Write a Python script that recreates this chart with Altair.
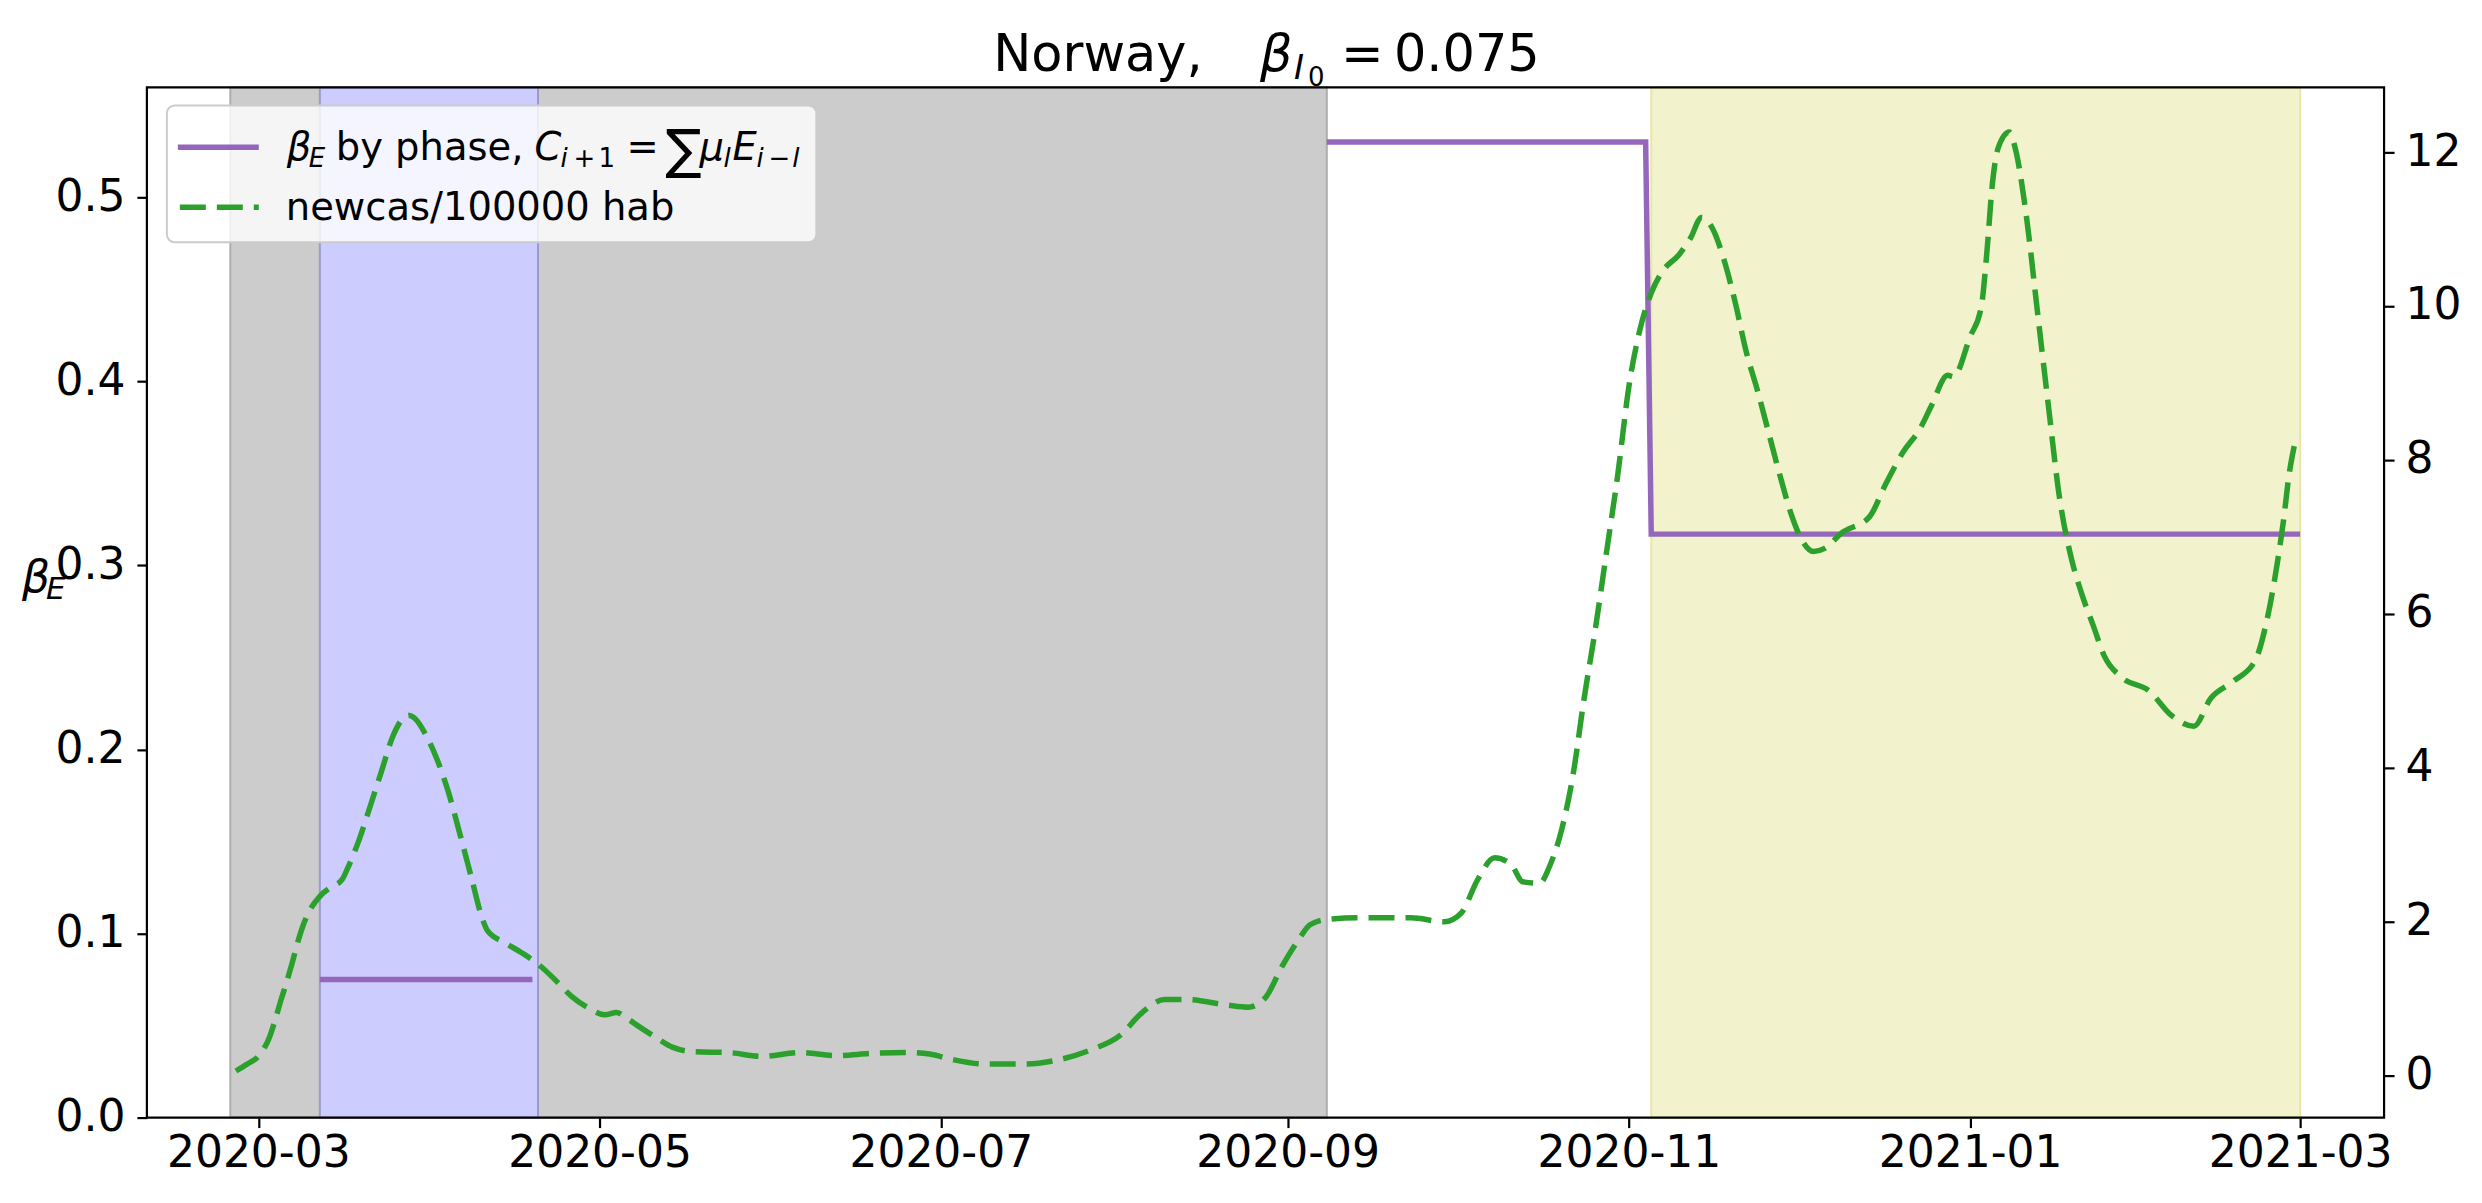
import altair as alt
import pandas as pd

# ---------------- data ----------------
green_dates = [
    "2020-02-26", "2020-02-28", "2020-03-01", "2020-03-02", "2020-03-03", "2020-03-04",
    "2020-03-05", "2020-03-06", "2020-03-07", "2020-03-08", "2020-03-09", "2020-03-10",
    "2020-03-12", "2020-03-14", "2020-03-16", "2020-03-17", "2020-03-19", "2020-03-21",
    "2020-03-23", "2020-03-25", "2020-03-27", "2020-03-28", "2020-03-29", "2020-03-31",
    "2020-04-02", "2020-04-04", "2020-04-06", "2020-04-08", "2020-04-10", "2020-04-11",
    "2020-04-14", "2020-04-17", "2020-04-20", "2020-04-23", "2020-04-26", "2020-04-29",
    "2020-05-02", "2020-05-04", "2020-05-06", "2020-05-08", "2020-05-11", "2020-05-14",
    "2020-05-18", "2020-05-24", "2020-05-30", "2020-06-06", "2020-06-12", "2020-06-19",
    "2020-06-25", "2020-06-29", "2020-07-03", "2020-07-09", "2020-07-16", "2020-07-21",
    "2020-07-28", "2020-08-02", "2020-08-06", "2020-08-10", "2020-08-14", "2020-08-21",
    "2020-08-25", "2020-08-28", "2020-08-31", "2020-09-03", "2020-09-05", "2020-09-08",
    "2020-09-14", "2020-09-23", "2020-09-29", "2020-10-02", "2020-10-05", "2020-10-08",
    "2020-10-11", "2020-10-13", "2020-10-16", "2020-10-18", "2020-10-20", "2020-10-22",
    "2020-10-24", "2020-10-26", "2020-10-28", "2020-10-30", "2020-11-01", "2020-11-03",
    "2020-11-05", "2020-11-07", "2020-11-10", "2020-11-12", "2020-11-14", "2020-11-16",
    "2020-11-18", "2020-11-20", "2020-11-22", "2020-11-24", "2020-11-26", "2020-11-28",
    "2020-11-30", "2020-12-02", "2020-12-04", "2020-12-06", "2020-12-09", "2020-12-14",
    "2020-12-17", "2020-12-20", "2020-12-23", "2020-12-25", "2020-12-28", "2020-12-29",
    "2021-01-01", "2021-01-03", "2021-01-04", "2021-01-05", "2021-01-06", "2021-01-08",
    "2021-01-09", "2021-01-11", "2021-01-13", "2021-01-15", "2021-01-17", "2021-01-19",
    "2021-01-21", "2021-01-23", "2021-01-25", "2021-01-28", "2021-02-02", "2021-02-06",
    "2021-02-10", "2021-02-13", "2021-02-17", "2021-02-21", "2021-02-23", "2021-02-25",
    "2021-02-26", "2021-02-27", "2021-02-28",
]
green_values = [
    0.06, 0.15, 0.25, 0.35, 0.50, 0.72,
    0.97, 1.20, 1.45, 1.72, 1.95, 2.12,
    2.33, 2.45, 2.55, 2.70, 3.06, 3.50,
    3.95, 4.40, 4.65, 4.68, 4.64, 4.42,
    4.10, 3.68, 3.15, 2.60, 2.05, 1.88,
    1.73, 1.60, 1.45, 1.25, 1.03, 0.88,
    0.79, 0.82, 0.74, 0.64, 0.50, 0.37,
    0.31, 0.30, 0.25, 0.30, 0.26, 0.29,
    0.30, 0.28, 0.21, 0.15, 0.15, 0.19,
    0.34, 0.52, 0.82, 0.99, 0.99, 0.92,
    0.89, 1.01, 1.42, 1.77, 1.96, 2.03,
    2.05, 2.05, 2.00, 2.11, 2.55, 2.83,
    2.74, 2.52, 2.50, 2.75, 3.20, 3.90,
    4.90, 5.80, 6.80, 7.80, 8.95, 9.70,
    10.17, 10.45, 10.67, 10.88, 11.15, 11.00,
    10.60, 10.05, 9.40, 8.90, 8.35, 7.80,
    7.30, 6.95, 6.81, 6.85, 7.05, 7.26,
    7.70, 8.10, 8.40, 8.69, 9.10, 9.08,
    9.60, 9.99, 10.70, 11.60, 12.05, 12.26,
    12.07, 11.20, 9.95, 8.70, 7.50, 6.75,
    6.25, 5.85, 5.45, 5.18, 5.00, 4.68,
    4.54, 4.90, 5.12, 5.40, 5.90, 6.70,
    7.20, 7.80, 8.20,
]

purple_dates = ["2020-03-12", "2020-04-19", "2020-09-08", "2020-11-04", "2020-11-05", "2021-03-01"]
purple_values = [0.075, 0.075, 0.53, 0.53, 0.317, 0.317]
purple_segment = [1, 1, 2, 2, 2, 2]

span_start = ["2020-02-25", "2020-03-12", "2020-11-05"]
span_end = ["2020-09-08", "2020-04-20", "2021-03-01"]
span_kind = ["grey", "blue", "yellow"]

left_ticks = [0.0, 0.1, 0.2, 0.3, 0.4, 0.5]
right_ticks = [0, 2, 4, 6, 8, 10, 12]
x_ticks = ["2020-03", "2020-05", "2020-07", "2020-09", "2020-11", "2021-01", "2021-03"]

legend_label_2 = "newcas/100000 hab"

# ---------------- layout / style ----------------
W, H = 2239, 1031
FONT = "DejaVu Sans"
PURPLE = "#9467bd"
GREEN = "#2ca02c"
TICK = 44
LW = 5.5

green_df = pd.DataFrame({"date": green_dates, "v": green_values})
purple_df = pd.DataFrame({"date": purple_dates, "v": purple_values, "seg": purple_segment})
span_df = pd.DataFrame({"start": span_start, "end": span_end, "kind": span_kind})
dummy = pd.DataFrame({"a": [0]})

x_values = [alt.DateTime(year=int(t[:4]), month=int(t[5:7]), date=1, utc=True) for t in x_ticks]
x_scale = alt.Scale(
    type="utc",
    domain=[alt.DateTime(year=2020, month=2, date=10, hours=2, utc=True),
            alt.DateTime(year=2021, month=3, date=16, utc=True)],
    nice=False,
)
x_axis = alt.Axis(values=x_values, format="%Y-%m", labelPadding=4, labelLimit=0, title=None)


def xenc(field):
    return alt.X(field, type="temporal", scale=x_scale, axis=x_axis)


spans = alt.Chart(span_df).mark_rect(strokeWidth=2).encode(
    x=xenc("start"),
    x2=alt.X2("end"),
    y=alt.value(0),
    y2=alt.value(H),
    fill=alt.Fill("kind:N", scale=alt.Scale(domain=span_kind,
                                            range=["#cccccc", "#ccccff", "#f2f2cc"]), legend=None),
    stroke=alt.Stroke("kind:N", scale=alt.Scale(domain=span_kind,
                                                range=["#adadad", "#9a9acc", "#e6e6aa"]), legend=None),
)

purple = alt.Chart(purple_df).mark_line(color=PURPLE, strokeWidth=LW, strokeJoin="miter").encode(
    x=xenc("date"),
    y=alt.Y("v:Q", scale=alt.Scale(domain=[0, 0.5597], nice=False, zero=False),
            axis=alt.Axis(orient="left", values=left_ticks, format=".1f", labelPadding=12, title=None)),
    detail="seg:N",
)

green = alt.Chart(green_df).mark_line(color=GREEN, strokeWidth=LW, strokeDash=[26, 11],
                                      interpolate="monotone").encode(
    x=xenc("date"),
    y=alt.Y("v:Q", scale=alt.Scale(domain=[-0.545, 12.84], nice=False, zero=False),
            axis=alt.Axis(orient="right", values=right_ticks, format="d", labelPadding=11, title=None)),
)


def txt(s, x, y, size, italic=False, align="left"):
    return alt.Chart(dummy).mark_text(
        text=s, font=FONT, fontSize=size, fontStyle="italic" if italic else "normal",
        align=align, baseline="alphabetic", color="black",
    ).encode(x=alt.value(x), y=alt.value(y))


legend_box = alt.Chart(dummy).mark_rect(
    fill="white", fillOpacity=0.8, stroke="#cccccc", strokeWidth=2, cornerRadius=8
).encode(x=alt.value(20), x2=alt.value(670), y=alt.value(18), y2=alt.value(155))

leg_line1 = alt.Chart(dummy).mark_rule(color=PURPLE, strokeWidth=LW).encode(
    x=alt.value(31), x2=alt.value(112), y=alt.value(60))
leg_line2 = alt.Chart(dummy).mark_rule(color=GREEN, strokeWidth=LW, strokeDash=[26, 11]).encode(
    x=alt.value(33), x2=alt.value(112), y=alt.value(120))

LS = 38.5
SUB = 26
texts = [
    # legend line 1
    txt("β", 140, 73, LS, True),
    txt("E", 162, 80, SUB, True),
    txt("by phase,", 189, 73, LS),
    txt("C", 388, 73, LS, True),
    txt("i", 414, 80, SUB, True),
    txt("+", 427, 80, SUB),
    txt("1", 452, 80, SUB),
    txt("=", 480, 73, LS),
    txt("∑", 519, 81, 54),
    txt("μ", 553, 73, LS, True),
    txt("l", 577, 80, SUB, True),
    txt("E", 586, 73, LS, True),
    txt("i", 610, 80, SUB, True),
    txt("−", 622, 80, SUB),
    txt("l", 646, 80, SUB, True),
    # legend line 2
    txt(legend_label_2, 139, 133, LS),
    # title
    txt("Norway,", 847, -16, 51),
    txt("β", 1114, -16, 51, True),
    txt("I", 1148, -8, 34, True),
    txt("0", 1162, -1, 26),
    txt("=", 1195, -16, 51),
    txt("0.075", 1248, -16, 51),
    # y label
    txt("β", -125, 505, 44, True),
    txt("E", -101, 512, 31, True),
]

frame = alt.Chart(dummy).mark_rect(fill="white", fillOpacity=0, stroke="black", strokeWidth=2.2).encode(
    x=alt.value(0), x2=alt.value(W), y=alt.value(0), y2=alt.value(H))

chart = alt.layer(
    spans, purple, green, legend_box, leg_line1, leg_line2, *texts, frame
).resolve_scale(y="independent").properties(
    width=W, height=H,
    autosize=alt.AutoSizeParams(type="none"),
    padding={"left": 139, "top": 79, "right": 90, "bottom": 80},
    background="white",
).configure_view(strokeWidth=0).configure_axis(
    labelFont=FONT, labelFontSize=TICK, labelColor="black",
    tickColor="black", tickWidth=2.2, tickSize=10,
    domain=False, grid=False,
)

chart.save("out.html", embed_options={"renderer": "svg", "actions": False})
